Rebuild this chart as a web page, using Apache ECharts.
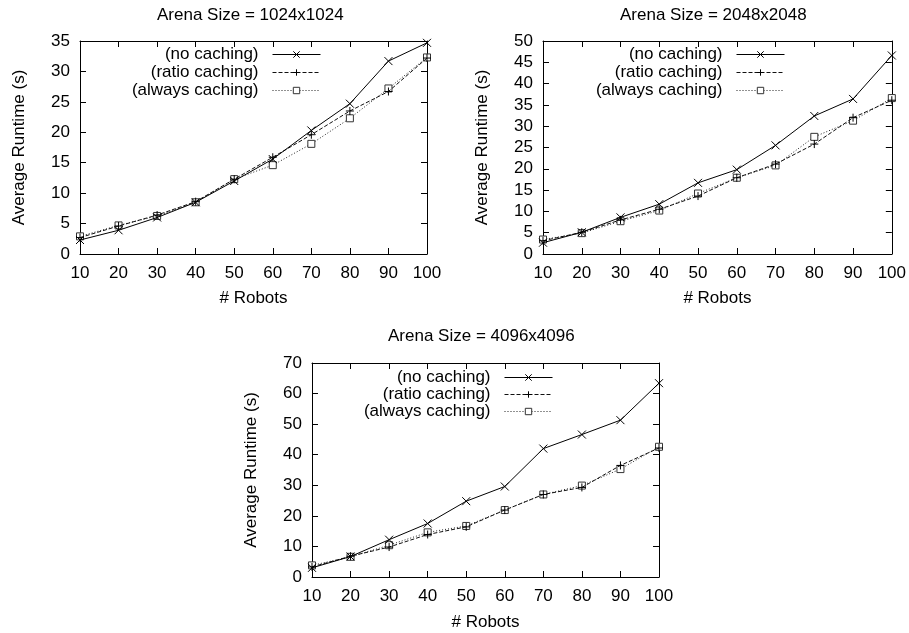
<!DOCTYPE html>
<html><head><meta charset="utf-8">
<script src="https://cdn.jsdelivr.net/npm/echarts@6/dist/echarts.min.js"></script>
<style>html,body{margin:0;padding:0;background:#fff}#c{width:909px;height:633px}</style>
</head><body><div id="c"></div>
<script>
const robots = [10, 20, 30, 40, 50, 60, 70, 80, 90, 100];
const seriesNames = ['(no caching)', '(ratio caching)', '(always caching)'];
const titles = ['Arena Size = 1024x1024', 'Arena Size = 2048x2048', 'Arena Size = 4096x4096'];
const xAxisName = '# Robots';
const yAxisName = 'Average Runtime (s)';

const a1024_noCaching     = [2.3, 3.9, 6.0, 8.5, 12.0, 15.6, 20.3, 24.7, 31.7, 34.7];
const a1024_ratioCaching  = [2.7, 4.6, 6.4, 8.6, 12.3, 15.9, 19.6, 23.5, 26.7, 32.2];
const a1024_alwaysCaching = [2.9, 4.7, 6.25, 8.5, 12.3, 14.6, 18.1, 22.3, 27.2, 32.3];

const a2048_noCaching     = [2.65, 5.1, 8.6, 11.7, 16.7, 19.8, 25.5, 32.4, 36.4, 46.6];
const a2048_ratioCaching  = [3.1, 5.1, 8.0, 10.5, 13.6, 17.9, 21.1, 25.8, 32.0, 36.1];
const a2048_alwaysCaching = [3.4, 4.9, 7.7, 10.2, 14.2, 17.9, 20.8, 27.5, 31.3, 36.6];

const a4096_noCaching     = [3.0, 6.7, 12.2, 17.5, 24.8, 29.6, 42.0, 46.6, 51.3, 63.4];
const a4096_ratioCaching  = [3.3, 6.8, 9.8, 13.9, 16.4, 21.9, 27.0, 29.3, 36.5, 42.2];
const a4096_alwaysCaching = [3.8, 6.6, 10.4, 14.6, 16.7, 21.9, 27.0, 29.9, 35.3, 42.6];

const yMax = [35, 50, 70];
const yInterval = [5, 5, 10];

const panels = [
  [a1024_noCaching, a1024_ratioCaching, a1024_alwaysCaching],
  [a2048_noCaching, a2048_ratioCaching, a2048_alwaysCaching],
  [a4096_noCaching, a4096_ratioCaching, a4096_alwaysCaching]
];

// ---- layout / style ----
const FONT = "'Liberation Sans', Arial, Helvetica, sans-serif";
const FS = 17;
const grids = [
  {left: 80, top: 41, width: 347, height: 213},
  {left: 543, top: 41, width: 349, height: 213},
  {left: 312, top: 363, width: 347, height: 214}
];
const titlePos = [{left: 157, top: 7}, {left: 620, top: 7}, {left: 388, top: 328}];
const legendPos = [{right: 588, top: 46, gap: 1}, {right: 124, top: 46, gap: 1}, {right: 356, top: 369, gap: 0}];
const xNameGap = [36, 36, 37];

const symbols = ['path://M0,0L8,8M8,0L0,8', 'path://M4,0L4,8M0,4L8,4', 'rect'];
const symbolSizes = [8, 8, 7];
const lineTypes = ['solid', [4, 2], [1, 2]];
const lineColors = ['#000', '#111', '#222'];

const option = {
  animation: false,
  backgroundColor: '#fff',
  textStyle: {fontFamily: FONT},
  title: titles.map((t, i) => ({
    text: t, left: titlePos[i].left, top: titlePos[i].top, padding: 0,
    textStyle: {fontSize: FS, fontWeight: 'normal', color: '#000', fontFamily: FONT}
  })),
  legend: grids.map((g, i) => ({
    orient: 'vertical', align: 'right', right: legendPos[i].right, top: legendPos[i].top,
    padding: 0, itemGap: legendPos[i].gap, itemWidth: 48, itemHeight: 8,
    selectedMode: false,
    data: seriesNames,
    lineStyle: {width: 1},
    itemStyle: {borderWidth: 1},
    textStyle: {fontSize: FS, color: '#000', fontFamily: FONT, padding: [0, 9, 0, 0]}
  })),
  grid: grids,
  xAxis: [],
  yAxis: [],
  series: []
};

grids.forEach((g, i) => {
  const tick = {show: true, inside: true, length: 6, lineStyle: {color: '#000', width: 1}};
  const line = {show: true, onZero: false, lineStyle: {color: '#000', width: 1}};
  option.xAxis.push({
    gridIndex: i, type: 'value', min: 10, max: 100, interval: 10, position: 'bottom',
    axisLine: line, axisTick: tick, splitLine: {show: false},
    axisLabel: {fontSize: FS, color: '#000', margin: 11, fontFamily: FONT},
    name: xAxisName, nameLocation: 'middle', nameGap: xNameGap[i],
    nameTextStyle: {fontSize: FS, color: '#000', fontFamily: FONT}
  });
  option.xAxis.push({
    gridIndex: i, type: 'value', min: 10, max: 100, interval: 10, position: 'top',
    axisLine: line, axisTick: tick, splitLine: {show: false}, axisLabel: {show: false}
  });
  option.yAxis.push({
    gridIndex: i, type: 'value', min: 0, max: yMax[i], interval: yInterval[i], position: 'left',
    axisLine: line, axisTick: tick, splitLine: {show: false},
    axisLabel: {fontSize: FS, color: '#000', margin: 10, fontFamily: FONT},
    name: yAxisName, nameLocation: 'middle', nameGap: 52,
    nameTextStyle: {fontSize: FS, color: '#000', fontFamily: FONT}
  });
  option.yAxis.push({
    gridIndex: i, type: 'value', min: 0, max: yMax[i], interval: yInterval[i], position: 'right',
    axisLine: line, axisTick: tick, splitLine: {show: false}, axisLabel: {show: false}
  });
  panels[i].forEach((vals, s) => {
    option.series.push({
      type: 'line', name: seriesNames[s],
      xAxisIndex: i * 2, yAxisIndex: i * 2,
      data: robots.map((r, k) => [r, vals[k]]),
      symbol: symbols[s], symbolSize: symbolSizes[s], showSymbol: true,
      z: 10 - s,
      lineStyle: {color: lineColors[s], width: 1, type: lineTypes[s]},
      itemStyle: {color: s === 2 ? '#fff' : '#000', borderColor: s === 2 ? '#333' : '#000', borderWidth: 1},
      emphasis: {disabled: true}
    });
  });
});

const chart = echarts.init(document.getElementById('c'), null, {renderer: 'canvas'});
chart.setOption(option);
</script>
</body></html>
